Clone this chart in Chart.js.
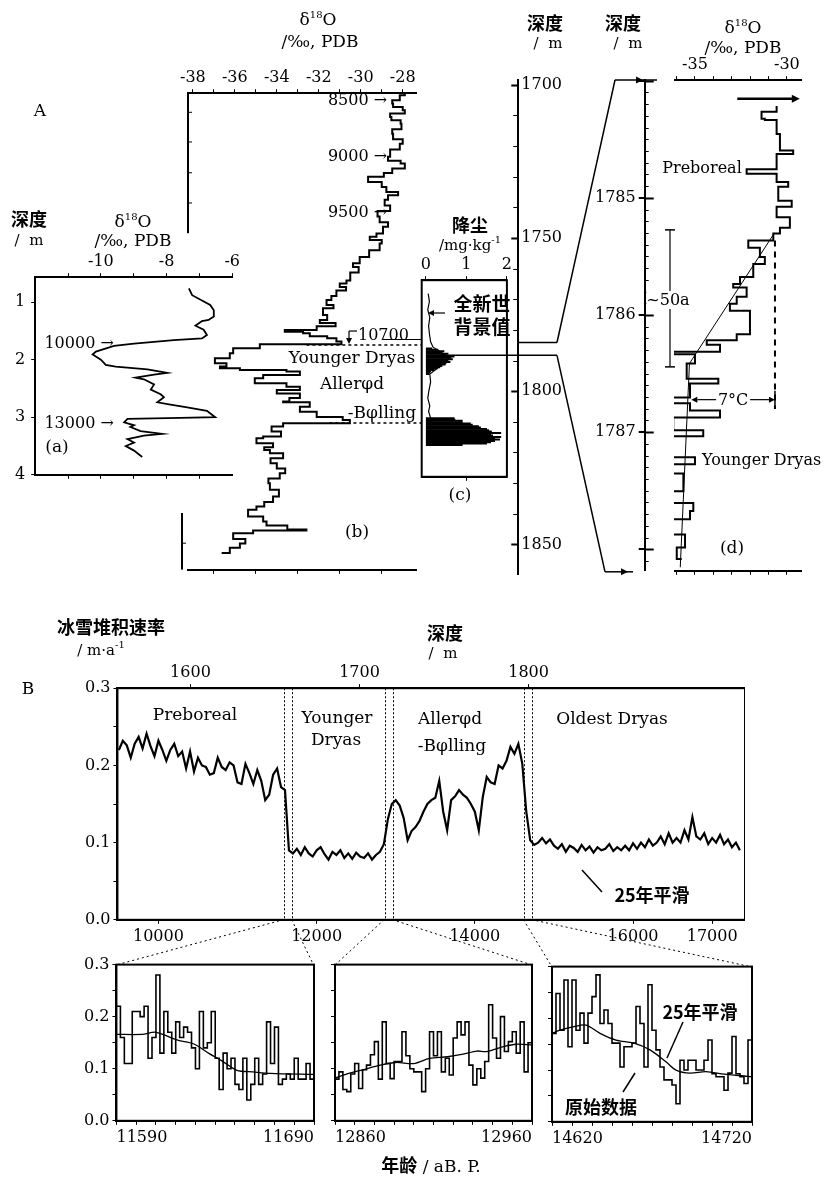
<!DOCTYPE html>
<html lang="zh">
<head>
<meta charset="UTF-8">
<title>冰芯 δ18O 与冰雪堆积速率</title>
<script src="https://cdn.jsdelivr.net/npm/chart.js"></script>
<style>
  body { margin: 0; background: #fff; }
  #fig { position: relative; width: 828px; height: 1182px; overflow: hidden; background: #fff; }
  .cw { position: absolute; z-index: 1; }
  .cw canvas { display: block; }
  #ov { position: absolute; left: 0; top: 0; z-index: 2; }
  .t { position: absolute; z-index: 3; white-space: nowrap; font-family: 'DejaVu Serif', serif; font-size: 17px; color: #000; line-height: 1; }
  .t sup { font-size: 10px; vertical-align: 7px; line-height: 0; }
  .zh { font-family: 'Noto Sans CJK SC', sans-serif; font-weight: 700; font-size: 18px; }
  .bg { background: #fff; padding: 1px 0; }
</style>
</head>
<body>
<div id="fig"><svg id="ov" width="828" height="1182"></svg></div>
<script>
// ---------- (a) 深度 / m  vs  δ18O ----------
const aDepth = [0.76, 0.88, 1.05, 1.14, 1.25, 1.31, 1.33, 1.41, 1.48, 1.57,
                1.63, 1.66, 1.72, 1.76, 1.86, 1.91, 2.0, 2.09, 2.12, 2.17,
                2.23, 2.26, 2.31, 2.34, 2.43, 2.52, 2.6, 2.65, 2.74, 2.78,
                2.83, 2.89, 3.0, 3.01, 3.03, 3.09, 3.14, 3.17, 3.24, 3.29,
                3.32, 3.38, 3.44, 3.5, 3.58, 3.69];
const aDelta = [-7.32, -7.22, -6.67, -6.56, -6.56, -6.72, -6.92, -7.12, -6.87, -6.77,
                -6.92, -7.78, -8.99, -9.6, -10.15, -10.25, -10.0, -9.85, -9.55, -8.58,
                -7.98, -8.38, -8.94, -8.69, -8.38, -8.48, -8.18, -8.08, -8.28, -7.88,
                -7.37, -6.77, -6.52, -7.58, -9.19, -9.29, -8.99, -9.1, -8.79, -8.13,
                -8.69, -9.19, -8.99, -9.24, -8.99, -8.74];
const aMarkDepth = [1.72, 3.1];
const aMarkText = ['10000', '13000'];

// ---------- (b) δ18O profile (vertical position in record units) ----------
const bPos = [8440, 8455, 8500, 8530, 8560, 8590, 8620, 8650, 8680, 8710,
              8760, 8800, 8850, 8890, 8940, 9005, 9040, 9065, 9110, 9150,
              9185, 9230, 9275, 9320, 9350, 9390, 9440, 9490, 9540, 9590,
              9630, 9690, 9720, 9750, 9780, 9840, 9900, 9958, 9990, 10040,
              10110, 10137, 10170, 10200, 10250, 10286, 10330, 10360, 10420, 10464,
              10490, 10520, 10553, 10570, 10583, 10610, 10628, 10657, 10680, 10717,
              10760, 10806, 10850, 10880, 10895, 10910, 10925, 10955, 10985, 11030,
              11060, 11090, 11120, 11160, 11193, 11200, 11240, 11283, 11330, 11357,
              11386, 11416, 11460, 11505, 11520, 11565, 11600, 11625, 11654, 11700,
              11744, 11790, 11833, 11880, 11922, 11980, 12040, 12090, 12130, 12160,
              12220, 12265, 12300, 12335, 12345, 12370, 12420, 12460, 12500, 12547];
const bDelta = [-27.9, -28.14, -28.5, -28.46, -28.0, -27.9, -28.6, -28.54, -28.1, -28.06,
                -28.5, -28.46, -28.0, -28.14, -28.6, -28.7, -28.1, -27.9, -28.5, -28.9,
                -29.65, -29.0, -28.78, -28.22, -28.7, -28.86, -28.6, -29.2, -29.1, -28.7,
                -28.94, -29.25, -29.57, -29.0, -29.1, -29.6, -30.05, -30.37, -30.1, -30.5,
                -30.68, -31.0, -30.7, -31.16, -31.4, -31.63, -31.3, -31.8, -31.6, -31.95,
                -31.2, -32.1, -33.62, -32.75, -32.43, -31.6, -31.16, -30.92, -34.81, -36.08,
                -36.24, -36.95, -36.4, -36.71, -35.76, -33.54, -32.9, -34.65, -35.05, -33.54,
                -32.9, -34.0, -32.9, -33.4, -33.7, -32.43, -32.9, -32.1, -30.86, -30.52,
                -33.7, -34.25, -33.8, -34.65, -34.97, -34.18, -34.6, -34.33, -33.7, -34.3,
                -34.0, -33.6, -33.86, -34.4, -34.33, -33.9, -34.18, -34.6, -34.97, -35.37,
                -34.65, -34.49, -33.5, -32.59, -35.13, -36.08, -35.5, -35.76, -36.24, -36.63];
const bMarkPos = [8500, 9000, 9500];
const bBoundPos = [10690, 11385];

// ---------- (c) 降尘 / mg·kg-1 vs 深度 / m ----------
const cDepth = [1784.5, 1785, 1785.5, 1786, 1786.5, 1787, 1787.5, 1788, 1788.5, 1789,
                1789.5, 1790, 1790.5, 1791, 1791.5, 1792, 1792.5, 1793, 1793.5, 1794,
                1810.5, 1811, 1811.5, 1812, 1812.5, 1813, 1813.5, 1814, 1814.5, 1815,
                1815.5, 1816, 1816.5, 1817, 1817.5, 1818, 1818.5, 1819, 1819.5, 1820, 1820.5];
const cDust = [0.15, 0.3, 0.45, 0.4, 0.55, 0.5, 0.7, 0.62, 0.66, 0.55,
               0.6, 0.5, 0.48, 0.4, 0.35, 0.28, 0.2, 0.12, 0.1, 0.08,
               0.7, 0.72, 0.9, 0.9, 1.1, 1.15, 1.3, 1.35, 1.5, 1.55,
               1.62, 1.85, 1.6, 1.65, 1.85, 1.7, 1.82, 1.7, 1.6, 1.5, 0.9];
const cTraceDepth = [1764, 1767, 1770, 1773, 1776, 1779, 1782, 1784, 1786, 1790, 1794, 1797, 1800, 1803, 1806, 1808, 1810.5, 1820.5];
const cTraceDust = [0.06, 0.09, 0.05, 0.1, 0.07, 0.09, 0.12, 0.18, 0.4, 0.45, 0.1, 0.12, 0.08, 0.05, 0.1, 0.07, 0.12, 0.12];

// ---------- (d) expanded section 1784-1788 m ----------
const dDepth = [1784.21, 1784.26, 1784.32, 1784.33, 1784.45, 1784.59, 1784.62, 1784.70, 1784.75, 1784.79,
                1784.86, 1784.90, 1785.02, 1785.07, 1785.16, 1785.25, 1785.30, 1785.36, 1785.42, 1785.50,
                1785.56, 1785.67, 1785.73, 1785.76, 1785.84, 1785.90, 1785.96, 1786.16, 1786.21, 1786.25,
                1786.31, 1786.33, 1786.41, 1786.54, 1786.58, 1786.70, 1786.75, 1786.81, 1786.87, 1786.98,
                1787.03, 1787.21, 1787.27, 1787.35, 1787.50, 1787.60, 1787.67, 1787.74, 1787.87, 1787.98, 1788.08];
const dDelta = [-30.56, -31.38, -31.2, -30.56, -30.38, -29.66, -30.56, -30.56, -32.19, -30.56,
                -29.93, -30.47, -29.74, -30.56, -29.84, -30.38, -30.74, -32.1, -31.47, -31.2,
                -31.83, -32.55, -32.92, -32.19, -32.73, -33.1, -32.01, -32.73, -34.36, -33.64,
                -36.18, -35.0, -35.45, -33.73, -35.27, -36.72, -35.27, -33.64, -36.18, -34.55,
                -36.36, -35.0, -36.72, -35.63, -36.72, -35.09, -35.27, -36.72, -35.54, -35.99, -35.72];
const dFitDepth = [1785.30, 1786.41, 1788.15];
const dFitDelta = [-30.7, -35.3, -35.8];

// ---------- B: 冰雪堆积速率 / m·a-1 vs 年龄 / aB.P. ----------
const mainAge = [9500, 9550, 9600, 9650, 9700, 9750, 9800, 9850, 9900, 9950,
  10000, 10050, 10100, 10150, 10200, 10250, 10300, 10350, 10400, 10450,
  10500, 10550, 10600, 10650, 10700, 10750, 10800, 10850, 10900, 10950,
  11000, 11050, 11100, 11150, 11200, 11250, 11300, 11350, 11400, 11450,
  11500, 11550, 11600, 11650, 11700, 11750, 11800, 11850, 11900, 11950,
  12000, 12050, 12100, 12150, 12200, 12250, 12300, 12350, 12400, 12450,
  12500, 12550, 12600, 12650, 12700, 12750, 12800, 12850, 12900, 12950,
  13000, 13050, 13100, 13150, 13200, 13250, 13300, 13350, 13400, 13450,
  13500, 13550, 13600, 13650, 13700, 13750, 13800, 13850, 13900, 13950,
  14000, 14050, 14100, 14150, 14200, 14250, 14300, 14350, 14400, 14450,
  14500, 14550, 14600, 14650, 14700, 14750, 14800, 14850, 14900, 14950,
  15000, 15050, 15100, 15150, 15200, 15250, 15300, 15350, 15400, 15450,
  15500, 15550, 15600, 15650, 15700, 15750, 15800, 15850, 15900, 15950,
  16000, 16050, 16100, 16150, 16200, 16250, 16300, 16350, 16400, 16450,
  16500, 16550, 16600, 16650, 16700, 16750, 16800, 16850, 16900, 16950,
  17000, 17050, 17100, 17150, 17200, 17250, 17300, 17350];
const mainRate = [0.22, 0.232, 0.226, 0.21, 0.228, 0.237, 0.222, 0.241, 0.225, 0.212,
  0.232, 0.22, 0.206, 0.22, 0.228, 0.212, 0.218, 0.196, 0.218, 0.192,
  0.21, 0.2, 0.198, 0.188, 0.19, 0.21, 0.198, 0.194, 0.204, 0.2,
  0.178, 0.176, 0.202, 0.19, 0.176, 0.194, 0.18, 0.155, 0.162, 0.188,
  0.196, 0.172, 0.168, 0.09, 0.086, 0.092, 0.084, 0.094, 0.086, 0.082,
  0.09, 0.094, 0.085, 0.078, 0.088, 0.084, 0.09, 0.08, 0.086, 0.079,
  0.087, 0.082, 0.08, 0.086, 0.078, 0.084, 0.088, 0.098, 0.13, 0.15,
  0.155, 0.148, 0.132, 0.103, 0.115, 0.12, 0.128, 0.14, 0.15, 0.155,
  0.158, 0.18, 0.14, 0.116, 0.155, 0.16, 0.168, 0.162, 0.158, 0.15,
  0.14, 0.116, 0.159, 0.185, 0.178, 0.176, 0.2, 0.196, 0.206, 0.224,
  0.215, 0.228, 0.202, 0.14, 0.103, 0.097, 0.1, 0.106, 0.099, 0.104,
  0.096, 0.092, 0.098, 0.088, 0.096, 0.093, 0.088, 0.097, 0.09, 0.095,
  0.087, 0.094, 0.09, 0.092, 0.098, 0.089, 0.094, 0.09, 0.096, 0.09,
  0.099, 0.092, 0.1, 0.094, 0.104, 0.096, 0.1, 0.108, 0.098, 0.112,
  0.1, 0.106, 0.1, 0.116, 0.104, 0.133, 0.108, 0.104, 0.112, 0.098,
  0.106, 0.1, 0.11, 0.098, 0.104, 0.094, 0.1, 0.09];
const mainAgeTicks = [10000, 12000, 14000, 16000, 17000];
const mainDepthTicks = [1600, 1700, 1800];
const winStart = [11590, 12860, 14620];
const winEnd = [11690, 12960, 14720];

const s1Age = [11590, 11592, 11594, 11596, 11598, 11600, 11602, 11604, 11606, 11608,
  11610, 11612, 11614, 11616, 11618, 11620, 11622, 11624, 11626, 11628,
  11630, 11632, 11634, 11636, 11638, 11640, 11642, 11644, 11646, 11648,
  11650, 11652, 11654, 11656, 11658, 11660, 11662, 11664, 11666, 11668,
  11670, 11672, 11674, 11676, 11678, 11680, 11682, 11684, 11686, 11688, 11690];
const s1Raw = [0.22, 0.16, 0.11, 0.11, 0.21, 0.21, 0.20, 0.22, 0.12, 0.16,
  0.28, 0.13, 0.21, 0.17, 0.13, 0.19, 0.16, 0.18, 0.17, 0.14,
  0.10, 0.21, 0.14, 0.15, 0.21, 0.12, 0.06, 0.13, 0.10, 0.12,
  0.07, 0.06, 0.12, 0.04, 0.07, 0.12, 0.07, 0.09, 0.19, 0.11,
  0.18, 0.07, 0.08, 0.09, 0.08, 0.12, 0.08, 0.08, 0.11, 0.08, 0.12];
const s1SmAge = [11590, 11603, 11610, 11621, 11629, 11637, 11643, 11651, 11659, 11668, 11690];
const s1Sm = [0.166, 0.166, 0.17, 0.155, 0.148, 0.129, 0.116, 0.097, 0.094, 0.091, 0.089];

const s2Age = [12860, 12862, 12864, 12866, 12868, 12870, 12872, 12874, 12876, 12878,
  12880, 12882, 12884, 12886, 12888, 12890, 12892, 12894, 12896, 12898,
  12900, 12902, 12904, 12906, 12908, 12910, 12912, 12914, 12916, 12918,
  12920, 12922, 12924, 12926, 12928, 12930, 12932, 12934, 12936, 12938,
  12940, 12942, 12944, 12946, 12948, 12950, 12952, 12954, 12956, 12958, 12960];
const s2Raw = [0.08, 0.094, 0.06, 0.056, 0.09, 0.11, 0.062, 0.098, 0.107, 0.127,
  0.152, 0.08, 0.19, 0.11, 0.081, 0.114, 0.114, 0.171, 0.125, 0.10,
  0.094, 0.094, 0.056, 0.10, 0.171, 0.125, 0.171, 0.094, 0.12, 0.088,
  0.159, 0.19, 0.165, 0.19, 0.107, 0.069, 0.10, 0.082, 0.114, 0.223,
  0.159, 0.12, 0.20, 0.133, 0.152, 0.171, 0.13, 0.19, 0.094, 0.15, 0.19];
const s2SmAge = [12860, 12867, 12874, 12883, 12891, 12900, 12908, 12917, 12925, 12932, 12937, 12946, 12952, 12960];
const s2Sm = [0.082, 0.091, 0.098, 0.107, 0.112, 0.11, 0.12, 0.123, 0.128, 0.134, 0.133, 0.143, 0.147, 0.146];

const s3Age = [14620, 14622, 14624, 14626, 14628, 14630, 14632, 14634, 14636, 14638,
  14640, 14642, 14644, 14646, 14648, 14650, 14652, 14654, 14656, 14658,
  14660, 14662, 14664, 14666, 14668, 14670, 14672, 14674, 14676, 14678,
  14680, 14682, 14684, 14686, 14688, 14690, 14692, 14694, 14696, 14698,
  14700, 14702, 14704, 14706, 14708, 14710, 14712, 14714, 14716, 14718, 14720];
const s3Raw = [0.171, 0.248, 0.177, 0.274, 0.145, 0.274, 0.177, 0.21, 0.152, 0.21,
  0.242, 0.284, 0.19, 0.216, 0.19, 0.152, 0.152, 0.106, 0.145, 0.145,
  0.152, 0.223, 0.19, 0.106, 0.265, 0.177, 0.139, 0.106, 0.081, 0.081,
  0.071, 0.035, 0.119, 0.10, 0.119, 0.119, 0.10, 0.10, 0.119, 0.158,
  0.093, 0.087, 0.087, 0.061, 0.094, 0.165, 0.093, 0.087, 0.074, 0.158, 0.087];
const s3SmAge = [14620, 14624, 14631, 14637, 14644, 14652, 14661, 14669, 14677, 14682, 14689, 14697, 14706, 14712, 14720];
const s3Sm = [0.171, 0.177, 0.184, 0.187, 0.171, 0.158, 0.152, 0.139, 0.116, 0.10, 0.094, 0.097, 0.092, 0.09, 0.087];

// ---------- helpers ----------
Chart.defaults.font.family = "'DejaVu Serif', serif";
Chart.defaults.font.size = 16;
Chart.defaults.color = '#000';

const fig = document.getElementById('fig');
const svg = document.getElementById('ov');
const NS = 'http://www.w3.org/2000/svg';

function pts(xs, ys) { return xs.map((x, i) => ({ x: x, y: ys[i] })); }
function range(a, b, s) { const r = []; for (let i = 0; a + i * s <= b + 1e-9; i++) r.push(+(a + i * s).toFixed(4)); return r; }
function isInt(v) { return Math.abs(v - Math.round(v)) < 1e-6; }

function axis(pos, min, max, tickList, labelList, o = {}) {
  const has = v => labelList.some(l => Math.abs(l - v) < 1e-6);
  return {
    type: 'linear', position: pos, min: min, max: max, reverse: !!o.reverse,
    afterBuildTicks: s => { s.ticks = tickList.map(v => ({ value: v })); },
    ticks: {
      autoSkip: false, maxRotation: 0, minRotation: 0,
      padding: o.pad ?? 2, align: o.align || 'center',
      callback: v => has(v) ? (o.fmt ? o.fmt(v) : String(v)) : ''
    },
    grid: Object.assign({ display: true, drawOnChartArea: false, drawTicks: true, tickLength: o.tl ?? 5,
      color: '#000', tickColor: '#000', lineWidth: 1 }, o.grid || {}),
    border: { display: true, color: '#000', width: o.bw ?? 2 }
  };
}
function hidden(min, max, rev) { return { type: 'linear', display: false, min: min, max: max, reverse: !!rev }; }

function opts(scales) {
  return {
    responsive: false, maintainAspectRatio: false, animation: false, events: [],
    layout: { padding: 0 },
    plugins: { legend: { display: false }, tooltip: { enabled: false } },
    scales: scales
  };
}
function prof(xs, ys, o) {
  return Object.assign({ data: pts(xs, ys), showLine: true, borderColor: '#000', backgroundColor: '#000',
    borderWidth: 1.5, pointRadius: 0, tension: 0 }, o || {});
}

const frame = {
  id: 'frame',
  afterDraw(c) {
    const a = c.chartArea, ctx = c.ctx;
    ctx.save(); ctx.strokeStyle = '#000'; ctx.lineWidth = 2;
    ctx.strokeRect(a.left, a.top, a.right - a.left, a.bottom - a.top);
    ctx.restore();
  }
};
const zoomLines = {
  id: 'zoomLines',
  afterDatasetsDraw(c) {
    const a = c.chartArea, ctx = c.ctx, sx = c.scales.x;
    ctx.save(); ctx.strokeStyle = '#000'; ctx.lineWidth = 1; ctx.setLineDash([2, 2]);
    winStart.concat(winEnd).forEach(v => {
      const x = Math.round(sx.getPixelForValue(v)) + 0.5;
      ctx.beginPath(); ctx.moveTo(x, a.top); ctx.lineTo(x, a.bottom); ctx.stroke();
    });
    ctx.restore();
  }
};
// short tick marks on the inner side of a lone depth axis
function innerTicks(len, majorLen, isMajor) {
  return {
    id: 'innerTicks',
    afterDraw(c) {
      const s = c.scales.y, a = c.chartArea, ctx = c.ctx;
      const right = s.position === 'right';
      const x0 = right ? a.right : a.left, dir = right ? -1 : 1;
      ctx.save(); ctx.strokeStyle = '#000';
      s.ticks.forEach(t => {
        const y = Math.round(s.getPixelForValue(t.value)) + 0.5, m = isMajor(t.value);
        ctx.lineWidth = m ? 2 : 1;
        ctx.beginPath(); ctx.moveTo(x0, y); ctx.lineTo(x0 + dir * (m ? majorLen : len), y); ctx.stroke();
      });
      ctx.restore();
    }
  };
}

// place a chart so that its chart area sits on the wanted box of the page
function build(box, cfgFn) {
  const wrap = document.createElement('div');
  wrap.className = 'cw';
  fig.appendChild(wrap);
  let w = box.r - box.l + 90, h = box.b - box.t + 70, chart = null;
  for (let k = 0; k < 4; k++) {
    if (chart) chart.destroy();
    wrap.innerHTML = '';
    const cv = document.createElement('canvas');
    cv.width = w; cv.height = h;
    cv.style.width = w + 'px'; cv.style.height = h + 'px';
    wrap.appendChild(cv);
    chart = new Chart(cv, cfgFn());
    const a = chart.chartArea;
    wrap.style.left = (box.l - a.left) + 'px';
    wrap.style.top = (box.t - a.top) + 'px';
    const dw = (box.r - box.l) - (a.right - a.left);
    const dh = (box.b - box.t) - (a.bottom - a.top);
    if (Math.abs(dw) < 0.5 && Math.abs(dh) < 0.5) break;
    w = Math.round(w + dw); h = Math.round(h + dh);
  }
  chart.$wrap = wrap;
  return chart;
}
function X(c, v, id) { return parseFloat(c.$wrap.style.left) + c.scales[id || 'x'].getPixelForValue(v); }
function Y(c, v, id) { return parseFloat(c.$wrap.style.top) + c.scales[id || 'y'].getPixelForValue(v); }
function area(c) {
  const l = parseFloat(c.$wrap.style.left), t = parseFloat(c.$wrap.style.top), a = c.chartArea;
  return { l: l + a.left, r: l + a.right, t: t + a.top, b: t + a.bottom };
}

// ---------- panel A ----------
const chA = build({ l: 35, t: 277, r: 232, b: 475 }, () => ({
  type: 'scatter',
  data: { datasets: [prof(aDelta, aDepth, { borderWidth: 1.8 })] },
  options: opts({
    x: axis('top', -12, -6, [-11, -10, -9, -8, -7, -6], [-10, -8, -6], { tl: 4 }),
    x2: axis('bottom', -12, -6, [-11, -10, -9, -8, -7], [], { tl: 4 }),
    y: axis('left', 0.567, 4, [1, 2, 3, 4], [1, 2, 3, 4], { reverse: true, pad: 6, tl: 4 })
  })
}));

const chB = build({ l: 188, t: 93, r: 417, b: 570 }, () => ({
  type: 'scatter',
  data: { datasets: [prof(bDelta, bPos, { stepped: 'after', borderWidth: 2 })] },
  options: opts({
    x: axis('top', -38.24, -27.33, range(-38, -28, 1), [-38, -36, -34, -32, -30, -28], { tl: 4 }),
    x2: axis('bottom', -38.24, -27.33, [-37, -35, -33, -31, -29], [], { tl: 4 }),
    y: hidden(8437.5, 12696, true)
  })
}));

const chC = build({ l: 422, t: 280, r: 507, b: 477 }, () => ({
  type: 'bar',
  data: { datasets: [
    { type: 'bar', data: pts(cDust, cDepth), backgroundColor: '#000', borderWidth: 0,
      barPercentage: 1, categoryPercentage: 1, xAxisID: 'x', yAxisID: 'y' },
    { type: 'line', data: pts(cTraceDust, cTraceDepth), borderColor: '#000', borderWidth: 1.2,
      pointRadius: 0, indexAxis: 'y', xAxisID: 'x', yAxisID: 'y' }
  ] },
  options: Object.assign(opts({
    x: axis('top', -0.1, 2, [0, 1, 2], [0, 1, 2], { tl: 4 }),
    x2: axis('bottom', -0.1, 2, [1], [], { tl: 4 }),
    y: hidden(1763.6, 1827.8, true)
  }), { indexAxis: 'y' }),
  plugins: [frame]
}));

// middle depth axis 1700-1850 m (labels on the right, short ticks on the left)
const chMid = build({ l: 460, t: 80, r: 518, b: 575 }, () => ({
  type: 'scatter',
  data: { datasets: [] },
  options: opts({
    x: hidden(0, 1),
    y: axis('right', 1698.37, 1859.77, range(1700, 1850, 10), [1700, 1750, 1800, 1850],
      { reverse: true, pad: 3, grid: { drawOnChartArea: false, drawTicks: false } })
  }),
  plugins: [innerTicks(5, 7, v => Math.abs(v % 50) < 1e-6)]
}));

// expanded depth axis 1784-1788 m (labels on the left)
const chDax = build({ l: 645, t: 80, r: 700, b: 571 }, () => ({
  type: 'scatter',
  data: { datasets: [] },
  options: opts({
    x: hidden(0, 1),
    y: axis('left', 1783.99, 1788.18, range(1784, 1788.1, 0.1), [1785, 1786, 1787], {
      reverse: true, pad: 3, tl: 6,
      grid: { drawOnChartArea: false,
        lineWidth: c => (c.tick && isInt(c.tick.value)) ? 2 : 1,
        tickColor: c => (c.tick && isInt(c.tick.value)) ? '#000' : 'rgba(0,0,0,0)' }
    })
  }),
  plugins: [innerTicks(4, 9, isInt)]
}));

const chD = build({ l: 674, t: 80, r: 802, b: 571 }, () => ({
  type: 'scatter',
  data: { datasets: [
    prof(dDelta, dDepth, { stepped: 'after', borderWidth: 2 }),
    prof(dFitDelta, dFitDepth, { borderWidth: 1 })
  ] },
  options: opts({
    x: axis('top', -36.14, -29.18, range(-36, -30, 1), [-35, -30], { tl: 4 }),
    x2: axis('bottom', -36.14, -29.18, range(-36, -30, 1), [], { tl: 4 }),
    y: hidden(1783.99, 1788.18, true)
  })
}));

// ---------- panel B ----------
const chMain = build({ l: 117, t: 688, r: 745, b: 920 }, () => ({
  type: 'line',
  data: { datasets: [{ data: pts(mainAge, mainRate), borderColor: '#000', borderWidth: 2.2, pointRadius: 0, tension: 0 }] },
  options: opts({
    x: axis('bottom', 9482, 17415, mainAgeTicks, mainAgeTicks, { pad: 3, tl: 4 }),
    x2: axis('top', 1556.8, 1928, mainDepthTicks, mainDepthTicks, { pad: 2, tl: 4 }),
    y: axis('left', 0, 0.3, range(0, 0.3, 0.05), [0, 0.1, 0.2, 0.3], { fmt: v => v.toFixed(1), pad: 3, tl: 4 })
  }),
  plugins: [frame, zoomLines]
}));

function sub(box, ages, raw, smAge, sm, w0, w1, showY) {
  return build(box, () => ({
    type: 'line',
    data: { datasets: [
      { data: pts(ages, raw), borderColor: '#000', borderWidth: 1.6, pointRadius: 0, stepped: true },
      { data: pts(smAge, sm), borderColor: '#000', borderWidth: 1.3, pointRadius: 0, tension: 0.3 }
    ] },
    options: opts({
      x: axis('bottom', w0, w1, range(w0, w1, 10), [w0, w1], { align: 'inner', pad: 3, tl: 4 }),
      y: axis('left', 0, 0.3, range(0, 0.3, 0.05), showY ? [0, 0.1, 0.2, 0.3] : [], { fmt: v => v.toFixed(1), pad: 3, tl: 4 })
    }),
    plugins: [frame]
  }));
}
const chS1 = sub({ l: 116, t: 965, r: 314, b: 1121 }, s1Age, s1Raw, s1SmAge, s1Sm, winStart[0], winEnd[0], true);
const chS2 = sub({ l: 335, t: 965, r: 532, b: 1121 }, s2Age, s2Raw, s2SmAge, s2Sm, winStart[1], winEnd[1], false);
const chS3 = sub({ l: 552, t: 967, r: 752, b: 1122 }, s3Age, s3Raw, s3SmAge, s3Sm, winStart[2], winEnd[2], false);

// ---------- overlay lines ----------
function ln(x1, y1, x2, y2, w, dash) {
  const e = document.createElementNS(NS, 'line');
  e.setAttribute('x1', x1); e.setAttribute('y1', y1);
  e.setAttribute('x2', x2); e.setAttribute('y2', y2);
  e.setAttribute('stroke', '#000'); e.setAttribute('stroke-width', w || 1);
  if (dash) e.setAttribute('stroke-dasharray', dash);
  svg.appendChild(e);
}
function head(x, y, dir, s) {
  s = s || 3.5;
  const d = { r: [[0, 0], [-2 * s, -s], [-2 * s, s]], l: [[0, 0], [2 * s, -s], [2 * s, s]],
              u: [[0, 0], [-s, 2 * s], [s, 2 * s]], d: [[0, 0], [-s, -2 * s], [s, -2 * s]] }[dir];
  const e = document.createElementNS(NS, 'polygon');
  e.setAttribute('points', d.map(p => (x + p[0]) + ',' + (y + p[1])).join(' '));
  e.setAttribute('fill', '#000');
  svg.appendChild(e);
}
function txt(s, x, y, o) {
  o = o || {};
  const d = document.createElement('div');
  d.className = 't' + (o.zh ? ' zh' : '') + (o.bg ? ' bg' : '');
  d.innerHTML = s;
  d.style.left = x + 'px'; d.style.top = y + 'px';
  const tx = o.a === 'l' ? '0' : o.a === 'r' ? '-100%' : '-50%';
  d.style.transform = 'translate(' + tx + ',-50%)';
  if (o.size) d.style.fontSize = o.size + 'px';
  fig.appendChild(d);
}

// B: zoom windows -> sub plots
const mA = area(chMain);
[chS1, chS2, chS3].forEach((s, i) => {
  const sa = area(s);
  ln(X(chMain, winStart[i]), mA.b, sa.l, sa.t, 1, '2,3');
  ln(X(chMain, winEnd[i]), mA.b, sa.r, sa.t, 1, '2,3');
});

// (b) broken left axis
const bA = area(chB);
ln(bA.l, bA.t, bA.l, Y(chB, 9690), 2);
[8610, 8875, 9150, 9420].forEach(v => ln(bA.l, Y(chB, v), bA.l + 4, Y(chB, v), 1));
ln(bA.l - 6, Y(chB, 12190), bA.l - 6, bA.b, 2);
ln(bA.l - 6, Y(chB, 12460), bA.l - 2, Y(chB, 12460), 1);
// (b) boundary dashes towards (c)
const cA = area(chC);
ln(X(chB, -32.6), Y(chB, bBoundPos[0]), cA.l, Y(chB, bBoundPos[0]), 1.5, '3,3');
ln(X(chB, -31.5), Y(chB, bBoundPos[1]), cA.l, Y(chB, bBoundPos[1]), 1.5, '3,3');
// 10700 hook
const y107 = Y(chB, 10600);
ln(357, y107 - 4, 349, y107 - 4, 1.2); ln(349, y107 - 4, 349, Y(chB, bBoundPos[0]) - 6, 1.2);
head(349, Y(chB, bBoundPos[0]) - 1, 'd', 3);

// expanded section (d): trapezoid from the middle depth axis
const midA = area(chMid), daxA = area(chDax);
const yTop = Y(chMid, 1784), yBot = Y(chMid, 1788.18);
ln(383, yTop - 3, cA.l, yTop - 3, 1.2);
ln(midA.r, yTop, 557, yTop, 1.5);
ln(443, yBot, 557, yBot, 1.5);
ln(557, yTop, 615, daxA.t, 1.5);
ln(557, yBot, 605, daxA.b + 1, 1.5);
ln(615, daxA.t, 657, daxA.t, 1.5); head(643, daxA.t, 'r', 3.5);
ln(605, daxA.b + 1, 633, daxA.b + 1, 1.5); head(628, daxA.b + 1, 'r', 3.5);
// 全新世背景值 arrow
ln(445, 313, 432, 313, 1.2); head(428, 313, 'l', 3);

// (d) annotations
const yArr = Y(chD, 1784.15);
ln(X(chD, -32.7), yArr, X(chD, -29.6), yArr, 2.5); head(X(chD, -29.3), yArr, 'r', 4);
const xDash = X(chD, -30.65);
ln(xDash, Y(chD, 1785.36), xDash, Y(chD, 1786.8), 2, '6,5');
const y7 = Y(chD, 1786.72), xFit = X(chD, -35.2), xMid = (xFit + xDash) / 2;
ln(xMid - 17, y7, xFit + 6, y7, 1.2); head(xFit, y7, 'l', 3);
ln(xMid + 17, y7, xDash - 6, y7, 1.2); head(xDash, y7, 'r', 3);
ln(xDash, y7 - 9, xDash, y7 + 9, 1.5);
const x50 = 670;
ln(x50, Y(chD, 1785.27), x50, Y(chD, 1786.44), 1.2);
ln(x50 - 5, Y(chD, 1785.27), x50 + 5, Y(chD, 1785.27), 1.5);
ln(x50 - 5, Y(chD, 1786.44), x50 + 5, Y(chD, 1786.44), 1.5);

// B pointers
ln(582, 870, 602, 892, 1.5);
ln(683, 1022, 667, 1058, 1.5);
ln(623, 1092, 635, 1073, 1.5);

// ---------- texts ----------
const d18 = 'δ<sup>18</sup>O';
txt('A', 40, 110);
txt('深度', 29, 218, { zh: true });
txt('/&nbsp;&nbsp;m', 29, 240, { size: 15 });
txt(d18, 133, 221);
txt('/‰, PDB', 133, 240);
txt(d18, 318, 19);
txt('/‰, PDB', 320, 41);
bMarkPos.forEach(v => txt(v + ' →', X(chB, -28.75), Y(chB, v), { a: 'r', size: 16 }));
aMarkDepth.forEach((v, i) => txt(aMarkText[i] + ' →', X(chA, -9.6), Y(chA, v), { a: 'r', size: 16 }));
txt('10700', 358, y107, { a: 'l', size: 16 });
txt('Younger Dryas', 352, 357);
txt('Allerφd', 352, 383);
txt('-Bφlling', 382, 412);
txt('(a)', 57, 446);
txt('(b)', 357, 531);
txt('(c)', 460, 494);
txt('(d)', 732, 547);

txt('深度', 545, 22, { zh: true });
txt('/&nbsp;&nbsp;m', 548, 43, { size: 15 });
txt('深度', 623, 22, { zh: true });
txt('/&nbsp;&nbsp;m', 628, 43, { size: 15 });
txt(d18, 743, 27);
txt('/‰, PDB', 743, 47);
txt('降尘', 470, 224, { zh: true });
txt('/mg·kg<sup>-1</sup>', 470, 245, { size: 15 });
txt('全新世', 482, 302, { zh: true, size: 19 });
txt('背景值', 482, 325, { zh: true, size: 19 });
txt('Preboreal', 702, 168, { size: 16 });
txt('Younger Dryas', 702, 460, { a: 'l', size: 16 });
txt('~50a', 668, 300, { bg: true, size: 16 });
txt('7°C', xMid, y7, { size: 16 });

txt('B', 28, 688);
txt('冰雪堆积速率', 111, 626, { zh: true });
txt('/ m·a<sup>-1</sup>', 101, 650, { size: 15 });
txt('深度', 445, 632, { zh: true });
txt('/&nbsp;&nbsp;m', 443, 653, { size: 15 });
txt('Preboreal', 195, 714);
txt('Younger', 337, 717);
txt('Dryas', 336, 739);
txt('Allerφd', 450, 718);
txt('-Bφlling', 452, 745);
txt('Oldest Dryas', 612, 718);
txt('25年平滑', 652, 894, { zh: true });
txt('25年平滑', 700, 1011, { zh: true });
txt('原始数据', 601, 1106, { zh: true });
txt('<span class="zh" style="font-size:18px">年龄</span> / aB. P.', 431, 1165);
</script>
</body>
</html>
